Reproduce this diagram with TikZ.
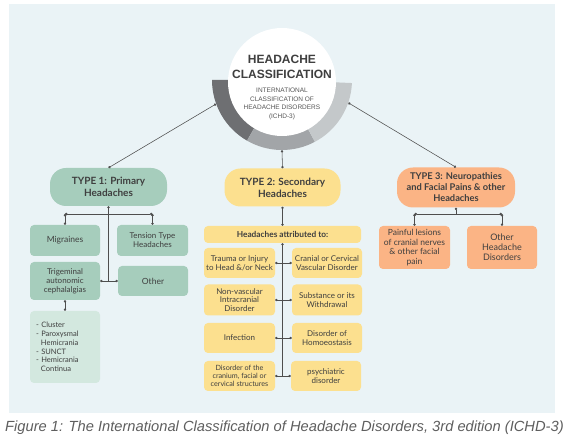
\documentclass[tikz,border=0pt]{standalone}
\usepackage{fontspec}
\setmainfont{Lato}
\newfontfamily\headfont{Liberation Sans}
\usepackage{tikz}
\usetikzlibrary{arrows.meta}

\definecolor{panel}{HTML}{EAF3F6}
\definecolor{ink}{HTML}{3F3F3F}
\definecolor{ink2}{HTML}{555555}
\definecolor{lk}{HTML}{4E4E4E}
\definecolor{sage}{HTML}{A6CDBC}
\definecolor{mint}{HTML}{D3E8DF}
\definecolor{butter}{HTML}{FCE08F}
\definecolor{peach}{HTML}{FBB485}
\definecolor{capgray}{HTML}{5E5E5E}
\definecolor{ringdark}{HTML}{6E6F72}
\definecolor{ringmid}{HTML}{A2A5A8}
\definecolor{ringlight}{HTML}{C4C8CA}

\begin{document}
\begin{tikzpicture}[x=1pt,y=-1pt,<->,>={Circle[length=2.4pt]},
                    every edge/.style={draw=lk,line width=0.55pt},
                    type node/.style={rectangle,rounded corners=16pt,minimum width=117,minimum height=38,align=center,text=ink,font=\bfseries\fontsize{10}{11.7}\selectfont},
                    sub node/.style={rectangle,rounded corners=4pt,minimum width=70,minimum height=30,inner sep=1pt,align=center,text=ink,font=\fontsize{8}{8.9}\selectfont}]

  \useasboundingbox (0,0) rectangle (571,446);
  \fill[panel] (9,4) rectangle (555,413);

  % ring round the title
  \fill[ringdark] (282,80) -- ++(180:70) arc[start angle=180,end angle=120,radius=70] -- cycle;
  \fill[ringmid] (282,80) -- ++(120:70) arc[start angle=120,end angle=62,radius=70] -- cycle;
  \fill[ringlight] (282,80) -- ++(62:70) arc[start angle=62,end angle=2.5,radius=70] -- cycle;
  \node[circle,inner sep=0,minimum size=140] (R) at (282,80) {};
  \node[circle,fill=white,inner sep=0,minimum size=108] (0) at (282,82) {};
  \node[font=\headfont\bfseries\fontsize{12}{15}\selectfont,text=ink,align=center] (title) at (282,66.5) {HEADACHE\\CLASSIFICATION};
  \node[font=\headfont\fontsize{6.5}{8.6}\selectfont,text=ink2,align=center] (icd) at (282,104) {INTERNATIONAL\\CLASSIFICATION OF\\HEADACHE DISORDERS\\(ICHD-3)};

  \node[type node,fill=sage] (1) at (108.5,187) {TYPE 1: Primary\\Headaches};
  \node[type node,fill=butter,minimum width=116] (2) at (282.5,187.5) {TYPE 2: Secondary\\Headaches};
  \node[type node,fill=peach,minimum width=118,minimum height=40,font=\bfseries\fontsize{9.3}{11}\selectfont] (3) at (456,187.5) {TYPE 3: Neuropathies\\and Facial Pains \& other\\Headaches};

  % type 1
  \node[sub node,fill=sage,minimum height=31,font=\fontsize{8.5}{9.5}\selectfont] (M) at (65,240.5) {Migraines};
  \node[sub node,fill=sage,minimum width=71,minimum height=31] (N) at (152.5,240.5) {Tension Type\\Headaches};
  \node[sub node,fill=sage,minimum height=38] (T) at (65,281) {Trigeminal\\autonomic\\cephalalgias};
  \node[sub node,fill=sage,font=\fontsize{8.5}{9.5}\selectfont] (O) at (153,281) {Other};
  \node[sub node,fill=mint,minimum height=72,text width=58,align=left,font=\fontsize{7.5}{8.7}\selectfont] (L) at (65,347) {- Cluster\\- Paroxysmal\\\hspace*{5pt}Hemicrania\\- SUNCT\\- Hemicrania\\\hspace*{5pt}Continua};

  % type 2
  \node[sub node,fill=butter,minimum width=157,minimum height=17,font=\bfseries\fontsize{8.3}{9}\selectfont] (H) at (282.5,234.5) {Headaches attributed to:};
  \node[sub node,fill=butter,minimum width=71] (A) at (239.5,263) {Trauma or Injury\\to Head \&/or Neck};
  \node[sub node,fill=butter] (B) at (327,263) {Cranial or Cervical\\Vascular Disorder};
  \node[sub node,fill=butter,minimum width=71,minimum height=31] (C) at (239.5,300) {Non-vascular\\Intracranial\\Disorder};
  \node[sub node,fill=butter,minimum height=31] (D) at (327,300) {Substance or its\\Withdrawal};
  \node[sub node,fill=butter,minimum width=71] (E) at (239.5,338) {Infection};
  \node[sub node,fill=butter] (F) at (327,338) {Disorder of\\Homoeostasis};
  \node[sub node,fill=butter,minimum width=71,font=\fontsize{7.2}{8}\selectfont] (G) at (239.5,376) {Disorder of the\\cranium, facial or\\cervical structures};
  \node[sub node,fill=butter] (K) at (326,376) {psychiatric\\disorder};

  % type 3
  \node[sub node,fill=peach,minimum width=71,minimum height=43,font=\fontsize{8.5}{9.5}\selectfont] (P) at (414.5,247.5) {Painful lesions\\of cranial nerves\\\& other facial\\pain};
  \node[sub node,fill=peach,minimum height=43,font=\fontsize{9}{10}\selectfont] (Q) at (502,247.5) {Other\\Headache\\Disorders};

  \coordinate (m) at (65,214);
  \coordinate (n) at (152.5,214);
  \coordinate (j3) at (456,214);
  \coordinate (p) at (414.5,214);
  \coordinate (q) at (502,214);

  \path
    (R.200) edge (1.north)
    (R.270) edge (2.north)
    (R.341) edge (3.north)
    (1.south) edge[<-] (1.south |- O.west)
    (m) edge (n)
    (m) edge (M.north)
    (n) edge (N.north)
    (T.east) edge (O.west)
    (T.south) edge (L.north)
    (2.south) edge (H.north)
    (H.south) edge[<-] (H.south |- G.east)
    (A.east) edge (B.west)
    (C.east) edge (D.west)
    (E.east) edge (F.west)
    (G.east) edge (K.west)
    (3.south) edge[<-] (j3)
    (p) edge (q)
    (p) edge (P.north)
    (q) edge (Q.north);

  \node[anchor=west,inner sep=0,font=\headfont\itshape\fontsize{14.7}{17}\selectfont,text=capgray] (cap) at (5,428) {Figure 1: The International Classification of Headache Disorders, 3rd edition (ICHD-3)};
\end{tikzpicture}
\end{document}
